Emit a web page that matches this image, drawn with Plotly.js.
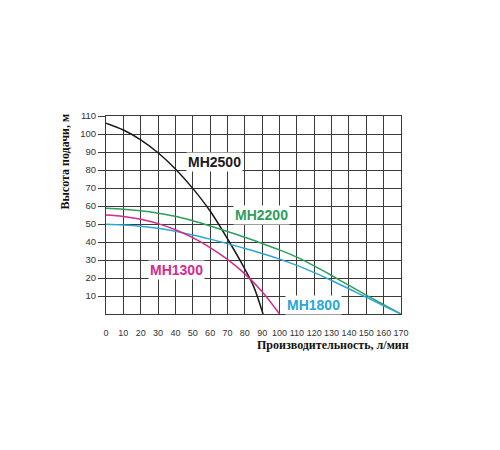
<!DOCTYPE html>
<html>
<head>
<meta charset="utf-8">
<script src="https://cdn.plot.ly/plotly-3.0.1.min.js"></script>
<style>html,body{margin:0;padding:0;background:#fff;}#chart{width:500px;height:450px;}</style>
</head>
<body>
<div id="chart"></div>
<script>
// Flow (л/мин) and head (м)
const flow2500 = [0, 10, 20, 30, 40, 50, 60, 70, 80, 85, 90.5];
const head2500 = [106, 102.2, 96.8, 89.6, 80.6, 69.8, 57.2, 41.8, 25, 15.5, 0];

const flow2200 = [0, 10, 20, 30, 40, 50, 60, 70, 80, 90, 100, 110, 120, 130, 140, 150, 160, 170];
const head2200 = [58.7, 58.2, 57.3, 56.0, 54.3, 51.8, 48.9, 45.8, 42.6, 39.2, 35.6, 31.6, 26.7, 21.4, 15.9, 10.5, 5.2, 0];

const flow1800 = [0, 10, 20, 30, 40, 50, 60, 70, 80, 90, 100, 110, 120, 130, 140, 150, 160, 170];
const head1800 = [49.9, 49.5, 48.8, 47.6, 45.9, 43.9, 41.6, 39.1, 36.4, 33.6, 30.5, 27.0, 23.0, 18.6, 14.0, 9.3, 4.6, 0];

const flow1300 = [0, 10, 20, 30, 40, 50, 60, 70, 80, 90, 100];
const head1300 = [55, 54.2, 52.6, 50.2, 46.8, 42.4, 36.9, 30.3, 22.3, 12.4, 0];

const seriesNames = ["MH2500", "MH2200", "MH1800", "MH1300"];
const labelX = [62.4, 89.4, 119.7, 40.4];
const labelY = [84.4, 55, 4.8, 24.4];

const xTicks = [0, 10, 20, 30, 40, 50, 60, 70, 80, 90, 100, 110, 120, 130, 140, 150, 160, 170];
const yTicks = [10, 20, 30, 40, 50, 60, 70, 80, 90, 100, 110];

const xTitle = "Производительность, л/мин";
const yTitle = "Высота подачи, м";

const colors = ["#1a1a1a", "#2e9e5b", "#2aa6d8", "#d42a8e"];
const flows = [flow2500, flow2200, flow1800, flow1300];
const heads = [head2500, head2200, head1800, head1300];

const traces = seriesNames.map((n, i) => ({
  x: flows[i], y: heads[i], name: n, type: "scatter", mode: "lines",
  line: {color: colors[i], width: 1.5, shape: "spline", smoothing: 1},
  hoverinfo: "skip"
}));

const annotations = seriesNames.map((n, i) => ({
  x: labelX[i], y: labelY[i], xref: "x", yref: "y", text: "<b>" + n + "</b>",
  showarrow: false, bgcolor: "#ffffff", borderpad: 1,
  font: {family: "Liberation Sans, Arial, sans-serif", size: 14, color: colors[i]}
}));

const layout = {
  width: 500, height: 450,
  margin: {l: 106, r: 99, t: 116, b: 136},
  paper_bgcolor: "#ffffff", plot_bgcolor: "#ffffff",
  showlegend: false,
  xaxis: {
    range: [0, 170], tickvals: xTicks, ticktext: xTicks.map(String), tickangle: 0,
    showgrid: true, gridcolor: "#3a3a3a", gridwidth: 1,
    zeroline: false, showline: true, linecolor: "#3a3a3a", linewidth: 1, mirror: true,
    ticks: "outside", ticklen: 10, tickcolor: "rgba(0,0,0,0)",
    tickfont: {family: "Liberation Sans, Arial, sans-serif", size: 9, color: "#333"}
  },
  yaxis: {
    range: [0, 110], tickvals: yTicks, ticktext: yTicks.map(String),
    showgrid: true, gridcolor: "#3a3a3a", gridwidth: 1,
    zeroline: false, showline: true, linecolor: "#3a3a3a", linewidth: 1, mirror: true,
    ticks: "outside", ticklen: 7, tickcolor: "#3a3a3a", tickwidth: 1,
    tickfont: {family: "Liberation Sans, Arial, sans-serif", size: 9.5, color: "#333"}
  },
  annotations: annotations.concat([
    {xref: "paper", yref: "paper", x: -0.139, y: 0.77, xanchor: "center", yanchor: "middle",
     text: "<b>" + yTitle + "</b>", textangle: -90, showarrow: false,
     font: {family: "Liberation Serif, Times New Roman, serif", size: 12, color: "#111"}},
    {xref: "paper", yref: "paper", x: 0.771, y: -0.157, xanchor: "center", yanchor: "middle",
     text: "<b>" + xTitle + "</b>", showarrow: false,
     font: {family: "Liberation Serif, Times New Roman, serif", size: 12, color: "#111"}}
  ])
};

Plotly.newPlot("chart", traces, layout, {staticPlot: true, displayModeBar: false});
</script>
</body>
</html>
